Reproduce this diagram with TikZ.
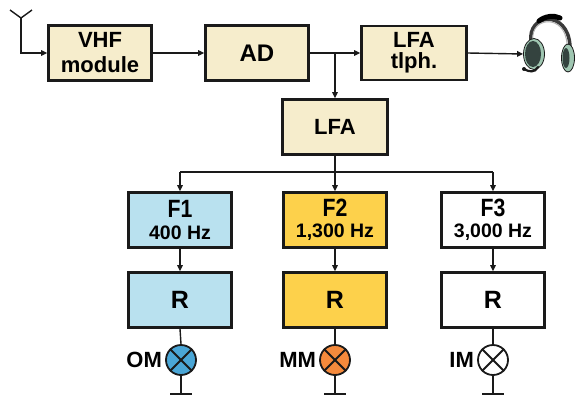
\documentclass[tikz,border=0pt]{standalone}
\usepackage{fontspec}
\setmainfont{Liberation Sans}
\newfontfamily\lblfont{Liberation Sans}
\newfontfamily\cndfont{Liberation Sans}[FakeStretch=0.85]
\usetikzlibrary{arrows.meta,shapes.geometric}
\definecolor{ink}{HTML}{1A1A1A}
\definecolor{cream}{HTML}{F6EDCC}
\definecolor{skyfill}{HTML}{B9E1EF}
\definecolor{goldfill}{HTML}{FDD14B}
\definecolor{lampblue}{HTML}{4AA6D6}
\definecolor{lamporange}{HTML}{F58A3C}
\definecolor{cupgreen}{HTML}{9FC6B1}
\definecolor{cupdark}{HTML}{34433F}
\definecolor{bandgrey}{HTML}{3A3A3A}
\tikzset{
  blk/.style={draw=ink, line width=2.6pt, minimum width=103pt, minimum height=55pt,
    inner sep=0pt, align=center, font=\lblfont\bfseries},
  creambox/.style={blk, fill=cream},
  filterbox/.style={blk, font=\lblfont\bfseries\fontsize{19.5}{21.5}\selectfont},
  wire/.style={line width=1.4pt, draw=ink},
  arr/.style={wire, -{Triangle[length=6pt,width=5.5pt]}},
  lamp/.style={circle, draw=ink, line width=1.8pt, minimum size=30pt, inner sep=0pt},
  cross/.style={line width=1.8pt, draw=ink},
  lamplabel/.style={anchor=east, inner sep=0pt, font=\lblfont\bfseries\fontsize{22}{24}\selectfont},
}
% filter caption: large name over its frequency
\newcommand{\ftwo}[2]{{\cndfont\bfseries\fontsize{25}{21.5}\selectfont #1}\\#2}
\begin{document}
\begin{tikzpicture}[x=1pt,y=-1pt]
\useasboundingbox (0,0) rectangle (576,399);

% receiver chain
\node[creambox, font=\lblfont\bfseries\fontsize{22}{25}\selectfont] (vhf) at (100,53) {VHF\\module};
\node[creambox, font=\lblfont\bfseries\fontsize{24}{28}\selectfont] (ad) at (257,53) {AD};
\node[creambox, minimum width=105pt, minimum height=54pt,
      font=\lblfont\bfseries\fontsize{22}{21}\selectfont] (lfat) at (414,53) {LFA\\tlph.};
\node[creambox, minimum width=105pt, font=\lblfont\bfseries\fontsize{22}{26}\selectfont] (lfa) at (335,127) {LFA};

% filters
\node[filterbox, fill=skyfill] (f1) at (180,220) {\ftwo{F1}{400 Hz}};
\node[filterbox, fill=goldfill] (f2) at (335,220) {\ftwo{F2}{1,300 Hz}};
\node[filterbox, fill=white] (f3) at (493,220) {\ftwo{F3}{3,000 Hz}};

% receivers
\node[blk, fill=skyfill, font=\lblfont\bfseries\fontsize{25}{28}\selectfont] (r1) at (180,300) {R};
\node[blk, fill=goldfill, font=\lblfont\bfseries\fontsize{25}{28}\selectfont] (r2) at (335,300) {R};
\node[blk, fill=white, font=\lblfont\bfseries\fontsize{25}{28}\selectfont] (r3) at (493,300) {R};

% marker lamps
\node[lamp, fill=lampblue] (l1) at (181,360) {};
\node[lamp, fill=lamporange] (l2) at (335,360) {};
\node[lamp, fill=white] (l3) at (493,360) {};
\foreach \l in {l1,l2,l3}{
  \draw[cross] (\l.north west) -- (\l.south east);
  \draw[cross] (\l.north east) -- (\l.south west);
}
\node[lamplabel] (om) at ([xshift=-3pt]l1.west) {OM};
\node[lamplabel] (mm) at ([xshift=-3pt]l2.west) {MM};
\node[lamplabel] (im) at ([xshift=-3pt]l3.west) {IM};

% antenna
\coordinate (ant) at (21,18);
\coordinate (antl) at (10,10);
\coordinate (antr) at (32,10);
\coordinate (antb) at (21,53);
\draw[wire] (antl) -- (ant) -- (antr);
\draw[arr] (ant) -- (antb) -- (vhf.west);

% signal path
\draw[arr] (vhf.east) -- (ad.west);
\draw[arr] (ad.east) -- (lfat.west);
\coordinate (j1) at (335,53);
\draw[arr] (j1) -- (lfa.north);

\coordinate (j2) at (335,172);
\coordinate (b1) at (180,172);
\coordinate (b3) at (493,172);
\draw[wire] (lfa.south) -- (j2);
\draw[wire] (b1) -- (b3);
\draw[arr] (b1) -- (f1.north);
\draw[arr] (j2) -- (f2.north);
\draw[arr] (b3) -- (f3.north);

\draw[arr] (f1.south) -- (r1.north);
\draw[arr] (f2.south) -- (r2.north);
\draw[arr] (f3.south) -- (r3.north);

\draw[wire] (r1.south) -- (l1.north);
\draw[wire] (r2.south) -- (l2.north);
\draw[wire] (r3.south) -- (l3.north);

% ground symbols
\foreach \l/\x in {l1/181,l2/335,l3/493}{
  \coordinate (g) at (\x,394);
  \draw[wire] (\l.south) -- (g);
  \draw[line width=1.8pt, draw=ink] ([xshift=-11pt]g) -- ([xshift=11pt]g);
}

% headset
\draw[bandgrey, line width=3.5pt, line cap=round] (531,42) .. controls (527,13) and (568,9) .. (570,46);
\draw[black, line width=5pt, line cap=round] (539,21) .. controls (545,16) and (554,15) .. (560,18);
\draw[gray!60, line width=1pt] (533,40) .. controls (530,17) and (565,13) .. (567,44);
\draw[ink, line width=0.8pt, fill=cupgreen] (568,58) ellipse [x radius=6.5pt, y radius=14pt];
\fill[cupdark] (566,58) ellipse [x radius=3.5pt, y radius=10pt];
\node[ellipse, draw=ink, line width=0.8pt, fill=cupgreen, minimum width=21pt, minimum height=31pt, inner sep=0pt] (cup) at (534,54) {};
\fill[cupdark] (533,54) ellipse [x radius=8pt, y radius=13pt];
\draw[ink, line width=2.2pt, line cap=round] (538,67) .. controls (535,73) and (529,72) .. (524,69);
\fill[ink] (524,69) circle (2pt);
\draw[arr] (lfat.east) -- (cup.west);
\end{tikzpicture}
\end{document}
